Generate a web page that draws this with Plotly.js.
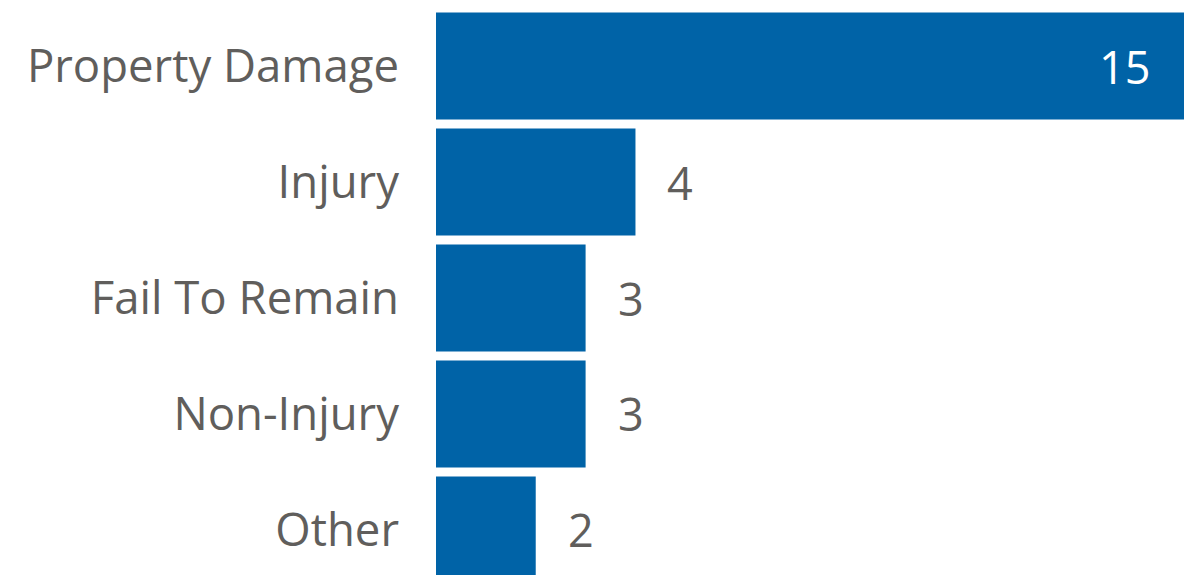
<!DOCTYPE html>
<html>
<head>
<meta charset="utf-8">
<script src="https://cdn.plot.ly/plotly-3.0.1.min.js"></script>
<style>html,body{margin:0;padding:0;background:#fff;}#chart{width:1189px;height:575px;}</style>
</head>
<body>
<div id="chart"></div>
<script>
const categories = ["Property Damage", "Injury", "Fail To Remain", "Non-Injury", "Other"];
const values = [15, 4, 3, 3, 2];

const barColor = "#0063A7";
const textColor = "#605E5C";
const fontFamily = "'Segoe UI', 'Open Sans', sans-serif";
const maxV = Math.max(...values);

const annotations = categories.map((c, i) => {
  const inside = values[i] / maxV > 0.5;
  return {
    x: values[i], y: c, xref: "x", yref: "y",
    text: String(values[i]), showarrow: false,
    xanchor: inside ? "right" : "left",
    xshift: inside ? -32 : 30,
    font: {family: fontFamily, size: 45, color: inside ? "#FFFFFF" : textColor}
  };
});

const data = [{
  type: "bar", orientation: "h",
  x: values, y: categories,
  marker: {color: barColor},
  hoverinfo: "none"
}];

const layout = {
  width: 1189, height: 575,
  margin: {l: 436, r: 5, t: 8, b: 0, pad: 0},
  paper_bgcolor: "#fff", plot_bgcolor: "#fff",
  bargap: 0.078,
  showlegend: false,
  xaxis: {range: [0, 15], visible: false, fixedrange: true},
  yaxis: {
    type: "category",
    range: [4.388, -0.5],
    showgrid: false, zeroline: false, showline: false, ticks: "",
    ticklabelstandoff: 36,
    tickfont: {family: fontFamily, size: 45.5, color: textColor}
  },
  annotations: annotations
};

Plotly.newPlot("chart", data, layout, {staticPlot: true, displayModeBar: false});
</script>
</body>
</html>
